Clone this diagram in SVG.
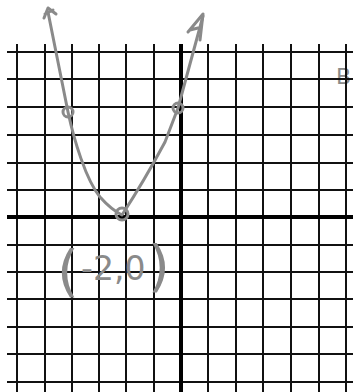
<svg xmlns="http://www.w3.org/2000/svg" width="353" height="392" viewBox="0 0 353 392">
<style>
.g{stroke:#111;stroke-width:2;fill:none}
.ax{stroke:#000;stroke-width:4;fill:none}
.pen{stroke:#8a8a8a;stroke-width:3;fill:none;stroke-linecap:round;stroke-linejoin:round}
.hand{fill:#8a8a8a;font-family:"DejaVu Sans",sans-serif}
</style>
<rect width="353" height="392" fill="#fff"/>
<g id="mark"><text class="hand" font-size="22" x="336" y="84">B</text></g>
<g id="grid">
<path class="g" d="M17 44V392M45 44V392M72 44V392M99 44V392M126 44V392M154 44V392M208 44V392M236 44V392M263 44V392M291 44V392M319 44V392M346 44V392"/>
<path class="g" d="M7 52H353M7 79H353M7 107H353M7 135H353M7 163H353M7 190H353M7 245H353M7 272H353M7 299H353M7 327H353M7 354H353M7 382H353"/>
</g>
<g id="axes">
<path class="ax" d="M7 217H353"/>
<path class="ax" d="M181 44V392"/>
</g>
<g id="connectors">
<path class="pen" d="M48 12 L68 112 C74 140 86 180 100 197 C108 206 116 212 122 215 C135 195 150 170 165 142 L178 108 L203 16"/>
<path class="pen" d="M44 18 L48 8 L56 14 M45 14 L53 10"/>
<path class="pen" d="M188 32 L203 14 L200 40 M190 30 L198 28"/>
</g>
<g id="point-left"><circle class="pen" cx="68" cy="112" r="5"/></g>
<g id="point-right"><circle class="pen" cx="178" cy="108" r="5"/></g>
<g id="vertex"><circle class="pen" cx="122" cy="214" r="6"/></g>
<g id="label">
<text class="hand" font-size="56" x="57" y="290">(</text>
<text class="hand" font-size="33" x="81" y="280">-2,0</text>
<text class="hand" font-size="56" x="148" y="285">)</text>
</g>
</svg>
